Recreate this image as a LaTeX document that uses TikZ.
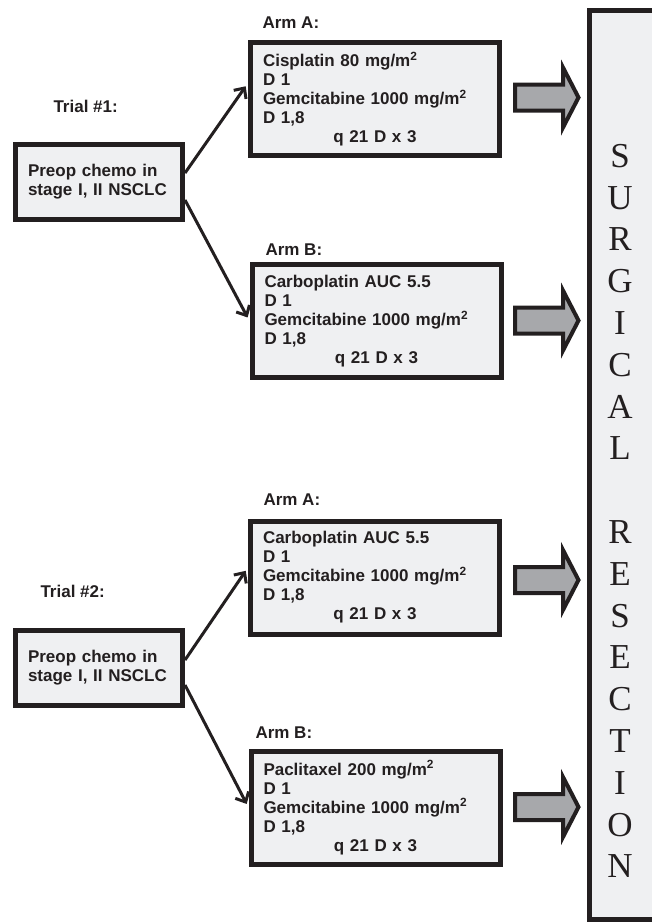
\documentclass[tikz,border=0pt]{standalone}
\usepackage{fontspec}
\setmainfont{Liberation Sans}
\newfontfamily\letterfont{Liberation Serif}
\usetikzlibrary{arrows.meta}

\definecolor{ink}{HTML}{231F20}
\definecolor{boxfill}{HTML}{EFF0F2}
\definecolor{blockfill}{HTML}{A7A8AB}
\newcommand{\qline}[1]{\makebox[224pt][c]{#1}}

\begin{document}
\begin{tikzpicture}[x=1pt,y=-1pt,line join=miter,
  every node/.style={text=ink,font=\bfseries\fontsize{17}{19}\selectfont},
  armbox/.style={draw=ink,line width=5pt,fill=boxfill,minimum width=249pt,minimum height=113pt,
    text width=224pt,inner xsep=12.5pt,inner ysep=0pt,align=left},
  prebox/.style={draw=ink,line width=5pt,fill=boxfill,minimum width=167pt,minimum height=75pt,
    text width=142pt,inner xsep=12.5pt,inner ysep=0pt,align=left},
  link/.style={draw=ink,line width=3pt,shorten >=4pt,-{Straight Barb[length=8pt,width=15pt]}}]
  \useasboundingbox (0,0) rectangle (652,922);
  \clip (0,0) rectangle (652,922);

  % surgery column
  \draw[ink,line width=5pt,fill=boxfill] (589.5,10) rectangle (700,919.5);
  \node[font=\letterfont\fontsize{35}{41.8}\selectfont,align=center,anchor=north,inner sep=0pt]
    (surg) at (620,144) {S\\U\\R\\G\\I\\C\\A\\L\\[41.8pt]R\\E\\S\\E\\C\\T\\I\\O\\N};

  % trial 1
  \node[anchor=base west] (t1) at (50,112) {Trial \#1:};
  \node[prebox] (pre1) at (99,182) {Preop chemo in\\stage I, II NSCLC};
  \node[anchor=base west] (t1a) at (259,28) {Arm A:};
  \node[armbox] (a1) at (375,99) {Cisplatin 80 mg/m\textsuperscript{2}\\D 1\\
    Gemcitabine 1000 mg/m\textsuperscript{2}\\D 1,8\\\qline{q 21 D x 3}};
  \node[anchor=base west] (t1b) at (262,255) {Arm B:};
  \node[armbox] (b1) at (376.5,321) {Carboplatin AUC 5.5\\D 1\\
    Gemcitabine 1000 mg/m\textsuperscript{2}\\D 1,8\\\qline{q 21 D x 3}};

  % trial 2
  \node[anchor=base west] (t2) at (37,597) {Trial \#2:};
  \node[prebox] (pre2) at (99,668) {Preop chemo in\\stage I, II NSCLC};
  \node[anchor=base west] (t2a) at (260,505) {Arm A:};
  \node[armbox] (a2) at (375,577.5) {Carboplatin AUC 5.5\\D 1\\
    Gemcitabine 1000 mg/m\textsuperscript{2}\\D 1,8\\\qline{q 21 D x 3}};
  \node[anchor=base west] (t2b) at (252,738) {Arm B:};
  \node[armbox] (b2) at (375.5,807.5) {Paclitaxel 200 mg/m\textsuperscript{2}\\D 1\\
    Gemcitabine 1000 mg/m\textsuperscript{2}\\D 1,8\\\qline{q 21 D x 3}};

  \draw[link] ([yshift=9pt]pre1.east) -- ([yshift=16pt]a1.west);
  \draw[link] ([yshift=-18pt]pre1.east) -- (b1.west);
  \draw[link] ([yshift=8pt]pre2.east) -- ([yshift=10pt]a2.west);
  \draw[link] ([yshift=-17pt]pre2.east) -- (b2.west);

  % block arrows into the surgery column
  \foreach \y in {97.5,320.5,580,807}
    \draw[ink,line width=4pt,fill=blockfill] (515,\y-13) -- (563,\y-13) -- (563,\y-30)
      -- (578.5,\y) -- (563,\y+30) -- (563,\y+13) -- (515,\y+13) -- cycle;
\end{tikzpicture}
\end{document}
